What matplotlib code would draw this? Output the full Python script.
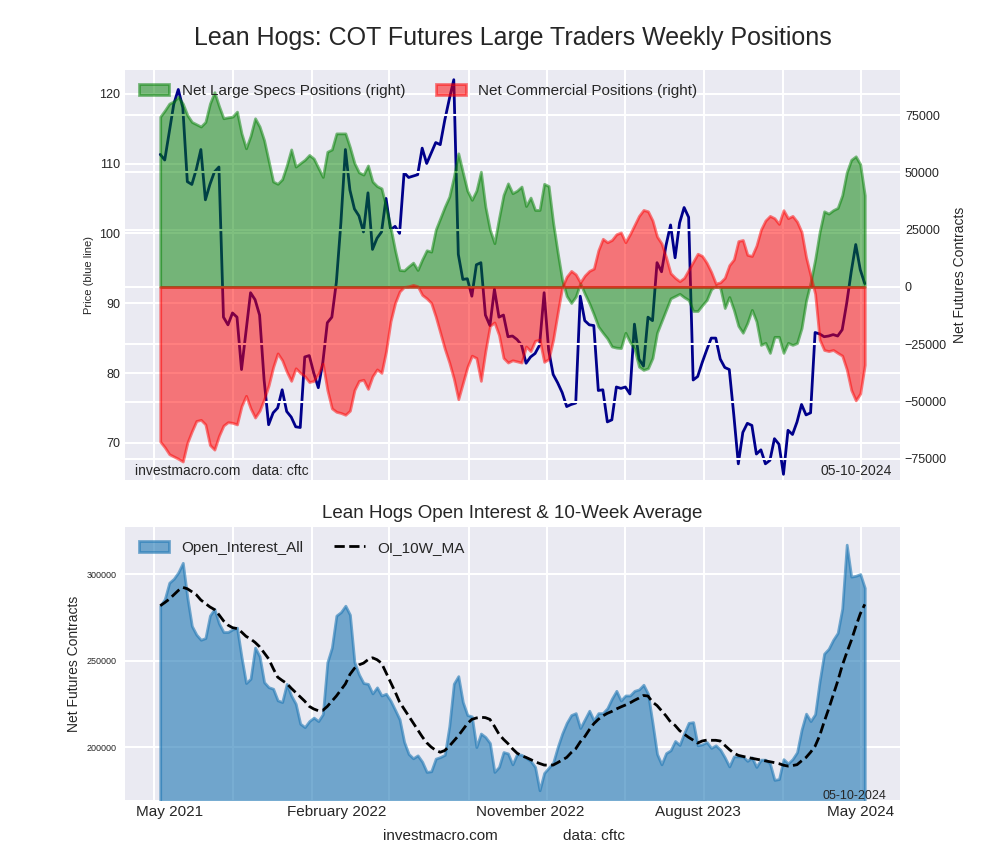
import numpy as np
import pandas as pd
import matplotlib
matplotlib.use('Agg')
import matplotlib.pyplot as plt
import matplotlib.dates as mdates
from matplotlib.ticker import MultipleLocator

# first weekly COT report date in the window (one point per week)
start_date = '2021-05-11'

# lean hog futures price (left axis)
price = [
    111.3, 110.5, 114.5, 118.5, 120.6, 118.0, 107.4, 107.0, 109.2, 112.0,
    104.8, 107.0, 108.8, 109.5, 88.0, 86.9, 88.6, 88.0, 80.5, 86.0,
    91.5, 90.5, 88.3, 79.0, 72.6, 74.3, 75.0, 77.6, 74.5, 73.7,
    72.3, 72.2, 82.3, 82.5, 80.0, 77.9, 81.5, 87.2, 88.0, 93.0,
    101.5, 112.0, 106.2, 103.5, 102.5, 100.2, 105.8, 97.7, 99.3, 100.2,
    105.0, 100.5, 101.0, 100.0, 108.7, 108.0, 108.2, 108.4, 112.2, 110.0,
    111.5, 113.0, 112.7, 116.2, 119.2, 122.0, 97.0, 93.4, 93.5, 91.0,
    95.5, 95.8, 88.3, 86.8, 92.0, 88.0, 88.3, 85.2, 85.3, 84.8,
    84.0, 81.4, 82.3, 82.8, 84.0, 91.5, 83.3, 79.8, 78.6, 77.2,
    75.2, 75.5, 75.7, 91.0, 87.5, 86.9, 86.8, 77.5, 77.6, 73.0,
    73.3, 78.0, 77.8, 78.0, 77.0, 87.0, 82.0, 81.0, 88.0, 87.5,
    95.8, 94.5, 98.3, 101.2, 96.5, 101.5, 103.7, 102.3, 79.0, 79.5,
    81.5, 83.3, 85.0, 85.0, 82.0, 80.8, 80.5, 74.0, 67.0, 71.5,
    72.8, 72.5, 68.4, 69.0, 67.0, 67.5, 70.6, 69.8, 65.5, 71.8,
    71.2, 73.0, 75.5, 74.0, 74.3, 85.8, 85.6, 85.2, 85.3, 85.5,
    85.3, 86.2, 90.0, 94.5, 98.4, 94.8, 92.8,
]

# net positions, thousands of contracts (right axis)
net_specs_k = [
    74.3, 77, 80, 81, 83, 80, 75, 72, 71, 70,
    72, 80, 85, 79, 73.6, 74, 74.3, 76.5, 67, 60.5,
    66, 73.6, 70, 64, 55, 46, 45, 47, 53, 60,
    52.5, 54, 55.5, 57.6, 56, 52, 48, 59, 60, 67,
    67, 67, 61, 54, 50, 49, 53, 46, 44, 43,
    35, 26, 16, 7.4, 7.2, 9, 10.6, 7.4, 12, 16,
    15.4, 25, 30, 35, 39.4, 48, 58.3, 50, 42, 38,
    42, 50.3, 35, 25, 19.1, 30, 40.1, 45.2, 40.9, 42,
    43.8, 35.3, 39, 33.6, 33.6, 45, 44, 28, 15, 3,
    -4, -7, -4.2, 1.6, -3, -7.1, -12, -17.3, -20, -22.5,
    -26, -26.5, -26.7, -20, -24, -27, -34.8, -36.2, -35.5, -31,
    -20, -15, -10, -5, -4, -3, -4.5, -5.7, -10.5, -10.5,
    -8, -5.7, -1, 0.4, -0.4, -9.2, -4.4, -10, -17, -20,
    -15.7, -10, -15, -25.3, -24.4, -28.8, -21.8, -21.8, -28.8, -24.4,
    -25.3, -24.5, -18, -6, 2, 12, 24, 33, 32, 33.5,
    34.5, 40, 50, 55.5, 57, 53.5, 40,
]

net_comm_k = [
    -67.5, -70, -73, -74, -75, -76.2, -68, -63, -58.5, -58,
    -60, -69, -71, -65, -60.5, -59, -59.3, -60, -52, -47.5,
    -53, -57, -54, -49, -43, -35, -29, -32, -37, -41,
    -35.5, -37.5, -39, -41.5, -41, -38, -33.5, -45, -53, -54.5,
    -55, -55.8, -54, -45, -41, -40.5, -44.5, -39, -36, -37.5,
    -28, -15, -7, -2, 0, 0.3, 0.9, 0.3, -3.5, -5,
    -7, -13, -20, -27, -33, -40, -49, -42, -35, -30,
    -31, -41, -28, -17, -15.5, -21, -31, -33, -32, -32.5,
    -33, -26, -28, -23.5, -23, -32.7, -31.5, -23, -11.3, 0,
    4.5, 7, 5.5, 2, 5, 7, 8, 16, 21, 19.5,
    20.5, 23, 23.8, 19.5, 23, 27, 31, 33.6, 33, 29,
    22, 19, 13, 6, 4, 2.5, 4, 7.5, 11, 14.5,
    13.5, 10.5, 6.5, 1.5, 2, 4, 9.5, 12, 20, 20.5,
    14, 13.5, 18, 25, 29, 31, 30, 27.5, 33.5, 30,
    31, 28.5, 24, 13, 5, -3, -23, -27.5, -28, -27.5,
    -28.8, -30, -36, -45, -49.5, -46.5, -34,
]

# open interest and its 10-week average, thousands of contracts
open_interest_k = [
    281.7, 285.5, 295, 297.3, 301, 306.5, 286.5, 270, 265, 262,
    263, 276, 279.8, 271.5, 266.5, 266.5, 268, 269, 252, 237,
    239.5, 257.5, 252.5, 237.5, 234.6, 233.7, 227, 226, 236.5, 229.8,
    225, 213.5, 211.5, 215, 217, 215, 219, 249, 257.5, 276,
    278, 281.7, 276.5, 249, 242, 237, 236.5, 231, 234.5, 229.8,
    230.8, 226.8, 221.5, 216, 203, 196, 193.5, 195.2, 191.5, 185.6,
    186, 193.3, 194.2, 195.5, 212, 236.6, 241, 226, 218.5, 217.7,
    200, 207.8, 205.8, 202.3, 185.6, 188.5, 197.1, 196.3, 190, 196,
    195.5, 193.8, 192, 188.5, 175, 185, 188, 191, 200, 207.8,
    214, 218.5, 219.6, 211, 216, 221, 215.4, 219.6, 219.6, 222.5,
    228, 232.5, 226.9, 229.8, 229.8, 232.5, 233.3, 236, 230.8, 214,
    196, 190, 196.5, 198.1, 203.5, 201.2, 208, 214, 214.4, 201,
    201.6, 202.9, 199.5, 201, 198.5, 194, 188.8, 194.6, 194.6, 194.6,
    192, 194, 188.5, 192.7, 192.7, 190.5, 181, 181.5, 193, 190.5,
    193, 197, 210, 219.3, 215, 219, 238, 254, 256.8, 262,
    266, 280, 317, 298.5, 299, 300, 292,
]

oi_ma_k = [
    281.7, 283.5, 285.5, 288, 290.5, 292.3, 291.5, 289.8, 288, 285,
    283, 281, 279.5, 276.5, 273, 270.5, 269, 268.5, 266.5, 264,
    262.5, 260.5, 258, 254.5, 251, 245.5, 240.4, 238.5, 236.8, 234,
    231.5, 229, 226.5, 223.5, 222, 221, 221.2, 223.5, 226.5, 229.5,
    233, 236.5, 242, 245.5, 247.5, 248.5, 250.5, 251.6, 250.5, 248.5,
    243, 237.5, 232, 226, 222, 218, 214, 210, 206, 202.5,
    200, 198.1, 197, 198, 200.5, 203.5, 206.5, 210, 213.5, 216,
    216.8, 217.2, 217, 216, 212, 207.5, 204.5, 202, 199, 196.5,
    195, 194, 192.8, 191.5, 190.5, 189.6, 189.5, 189.6, 191, 192.5,
    194, 196.8, 199, 203, 206, 210, 213.5, 216, 218, 219.5,
    220.6, 222, 223.2, 224.3, 225.5, 227, 228.3, 229.8, 229.5, 226,
    224, 221, 218, 214.5, 212.5, 209.5, 207.5, 205.6, 204, 202.3,
    203.5, 204, 203.9, 203.9, 203.5, 201, 198.6, 196.5, 195.2, 194.6,
    194, 193.5, 193, 192.5, 192, 191.5, 191, 190.4, 189.5, 189,
    189.3, 189.8, 192, 194, 197, 200.5, 206.5, 214.5, 222, 230,
    238, 247, 254.5, 261.5, 269.5, 277, 282.5,
]

# x tick labels of the lower chart and the weeks they sit under
tick_labels = ['May 2021', 'February 2022', 'November 2022',
               'August 2023', 'May 2024']
tick_weeks = [2, 39, 82, 119, 155]


def main():
    plt.style.use('seaborn-v0_8-darkgrid')
    plt.rcParams['font.family'] = ['Liberation Sans', 'DejaVu Sans']
    plt.rcParams['grid.linewidth'] = 1.5

    dates = pd.date_range(start_date, periods=len(price), freq='7D')
    specs = np.array(net_specs_k) * 1000
    comm = np.array(net_comm_k) * 1000
    oi = np.array(open_interest_k) * 1000
    oi_ma = np.array(oi_ma_k) * 1000

    span = dates[-1] - dates[0]
    xlim = (dates[0] - span * 0.05, dates[-1] + span * 0.05)
    grid_loc = mdates.MonthLocator(bymonth=[1, 5, 9])

    fig = plt.figure(figsize=(10, 8.6), dpi=100)
    fig.text(0.5125, 0.956,
             'Lean Hogs: COT Futures Large Traders Weekly Positions',
             ha='center', va='center', fontsize=18)

    # upper chart: price under the net positions
    ax1 = fig.add_axes([0.125, 0.442, 0.775, 0.4767])
    ax1.plot(dates, price, color='darkblue', lw=2)
    ax1.set_xlim(xlim)
    ax1.set_ylim(64.7, 123.4)
    ax1.yaxis.set_major_locator(MultipleLocator(10))
    ax1.xaxis.set_major_locator(grid_loc)
    ax1.tick_params(axis='x', labelbottom=False)
    ax1.tick_params(axis='y', labelsize=9)
    ax1.set_ylabel('Price (blue line)', fontsize=8)

    ax2 = ax1.twinx()
    ax2.fill_between(dates, 0, specs, color='green', alpha=0.5, lw=2,
                     label='Net Large Specs Positions (right)')
    ax2.fill_between(dates, 0, comm, color='red', alpha=0.5, lw=2,
                     label='Net Commercial Positions (right)')
    ax2.set_xlim(xlim)
    ax2.set_ylim(-84200, 94700)
    ax2.yaxis.set_major_locator(MultipleLocator(25000))
    ax2.tick_params(axis='y', labelsize=9)
    ax2.set_ylabel('Net Futures Contracts', fontsize=10)
    ax2.legend(loc='upper left', ncol=2, fontsize=11)
    ax2.text(0.013, 0.012, 'investmacro.com   data: cftc',
             transform=ax2.transAxes, fontsize=10)
    ax2.text(0.99, 0.012, '05-10-2024', transform=ax2.transAxes,
             ha='right', fontsize=10)

    # lower chart: open interest
    ax3 = fig.add_axes([0.125, 0.0698, 0.775, 0.3174])
    ax3.fill_between(dates, 0, oi, color='#1f77b4', alpha=0.6, lw=2,
                     label='Open_Interest_All')
    ax3.plot(dates, oi_ma, 'k--', lw=2, label='OI_10W_MA')
    ax3.set_xlim(xlim)
    ax3.set_ylim(169400, 327200)
    ax3.yaxis.set_major_locator(MultipleLocator(50000))
    ax3.xaxis.set_major_locator(grid_loc)
    ax3.tick_params(axis='x', which='major', labelbottom=False)
    ax3.set_xticks(mdates.date2num(dates[tick_weeks]), tick_labels,
                   minor=True)
    ax3.tick_params(axis='x', which='minor', labelsize=11)
    ax3.tick_params(axis='y', labelsize=6.5, pad=6)
    ax3.set_ylabel('Net Futures Contracts', fontsize=10)
    ax3.legend(loc='upper left', ncol=2, fontsize=11)
    ax3.text(0.5, 1.051, 'Lean Hogs Open Interest & 10-Week Average',
             transform=ax3.transAxes, ha='center', va='center',
             fontsize=13.5)
    ax3.text(0.983, 0.005, '05-10-2024', transform=ax3.transAxes,
             ha='right', fontsize=9)

    fig.text(0.44, 0.028, 'investmacro.com', ha='center', va='center',
             fontsize=11)
    fig.text(0.594, 0.028, 'data: cftc', ha='center', va='center',
             fontsize=11)

    fig.savefig('out.png', dpi=100)


if __name__ == "__main__":
    main()
